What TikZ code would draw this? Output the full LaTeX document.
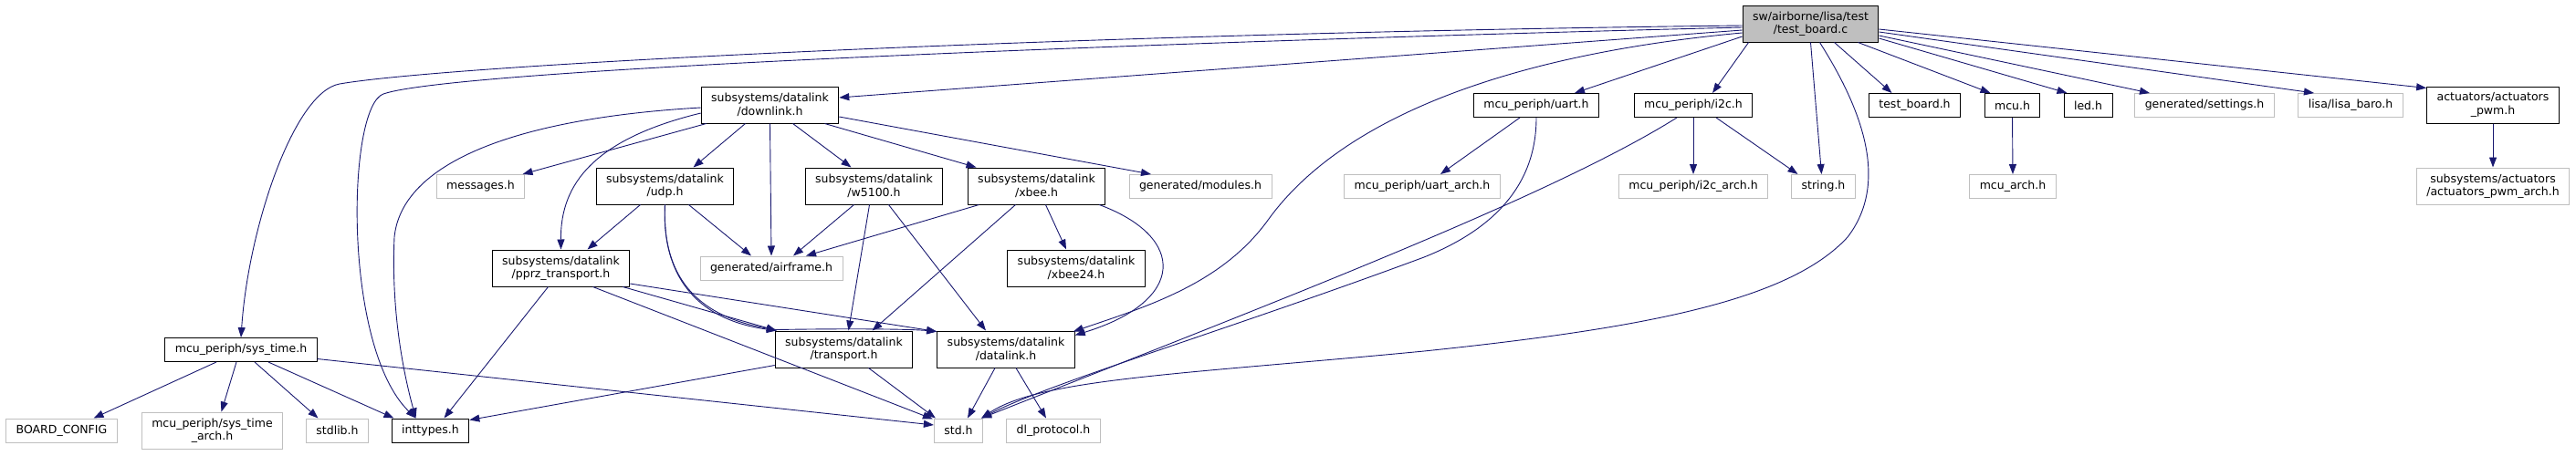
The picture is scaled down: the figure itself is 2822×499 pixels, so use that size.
\documentclass[tikz,border=0pt]{standalone}
\usepackage{fontspec}
\setmainfont{DejaVu Sans}
\usetikzlibrary{arrows.meta,calc}
\definecolor{edgeblue}{HTML}{191970}
\definecolor{undocgrey}{HTML}{BFBFBF}
\newcommand{\gfont}{\fontsize{12.5}{14.5}\selectfont}

\begin{document}
\begin{tikzpicture}[x=1pt,y=-1pt,>={Triangle[length=11pt,width=8pt]},
  doc/.style={draw=black,fill=white,line width=1pt,inner xsep=11pt,inner ysep=2pt,minimum height=26pt,align=center,font=\gfont},
  undoc/.style={doc,draw=undocgrey},
  twoline/.style={minimum height=40pt},
  inc/.style={->,draw=edgeblue,line width=0.9pt}]
  \useasboundingbox (0,0) rectangle (2822,499);
  % rank 0
  \node[doc,twoline,fill=undocgrey] (tbc) at (1983.5,26) {sw/airborne/lisa/test\\/test\_board.c};
  % rank 1
  \node[doc,twoline] (downlink) at (843.5,115) {subsystems/datalink\\/downlink.h};
  \node[doc] (uart) at (1683,115.5) {mcu\_periph/uart.h};
  \node[doc] (itwoc) at (1855,115.5) {mcu\_periph/i2c.h};
  \node[doc] (tbh) at (2097.5,115.5) {test\_board.h};
  \node[doc] (mcu) at (2204.5,115.5) {mcu.h};
  \node[doc] (led) at (2287.5,115.5) {led.h};
  \node[undoc] (settings) at (2415,115.5) {generated/settings.h};
  \node[undoc] (baro) at (2575,115.5) {lisa/lisa\_baro.h};
  \node[doc,twoline] (actpwm) at (2731,115) {actuators/actuators\\\_pwm.h};
  % rank 2
  \node[undoc] (messages) at (526.5,204.5) {messages.h};
  \node[doc,twoline] (udp) at (728.5,204) {subsystems/datalink\\/udp.h};
  \node[doc,twoline] (w5100) at (957.5,204) {subsystems/datalink\\/w5100.h};
  \node[doc,twoline] (xbee) at (1135.5,204) {subsystems/datalink\\/xbee.h};
  \node[undoc] (modules) at (1315,204.5) {generated/modules.h};
  \node[undoc] (uartarch) at (1558,204.5) {mcu\_periph/uart\_arch.h};
  \node[undoc] (itwocarch) at (1855,204.5) {mcu\_periph/i2c\_arch.h};
  \node[undoc] (stringh) at (1997.5,204.5) {string.h};
  \node[undoc] (mcuarch) at (2205,204.5) {mcu\_arch.h};
  \node[undoc,twoline] (actpwmarch) at (2731,204) {subsystems/actuators\\/actuators\_pwm\_arch.h};
  % rank 3
  \node[doc,twoline] (pprz) at (614.5,294) {subsystems/datalink\\/pprz\_transport.h};
  \node[undoc] (airframe) at (845,294) {generated/airframe.h};
  \node[doc,twoline] (xbeetf) at (1179,294) {subsystems/datalink\\/xbee24.h};
  % rank 4
  \node[doc] (systime) at (264,383.5) {mcu\_periph/sys\_time.h};
  \node[doc,twoline] (transport) at (924.5,383) {subsystems/datalink\\/transport.h};
  \node[doc,twoline] (datalink) at (1102,383) {subsystems/datalink\\/datalink.h};
  % rank 5
  \node[undoc] (boardcfg) at (67.5,472) {BOARD\_CONFIG};
  \node[undoc,twoline] (systimearch) at (232.5,472) {mcu\_periph/sys\_time\\\_arch.h};
  \node[undoc] (stdlib) at (369.5,472) {stdlib.h};
  \node[doc] (inttypes) at (471.5,472) {inttypes.h};
  \node[undoc] (stdh) at (1050,472) {std.h};
  \node[undoc] (dlproto) at (1154,472) {dl\_protocol.h};

  % includes of test_board.c
  \draw[inc] ($(tbc.west)+(0,2)$) .. controls (1200,36) and (500,70) .. (372,92) .. controls (322,101) and (272,250) .. (systime.north);
  \draw[inc] ($(tbc.west)+(0,4)$) .. controls (1300,45) and (500,75) .. (420,103) .. controls (380,117) and (375,380) .. ($(inttypes.north)+(-16,0)$);
  \draw[inc] ($(tbc.west)+(0,7)$) -- ($(downlink.east)+(0,-8)$);
  \draw[inc] ($(tbc.west)+(0,10)$) .. controls (1650,60) and (1470,130) .. (1390,240) .. controls (1340,310) and (1260,335) .. ($(datalink.north east)+(-2,1)$);
  \draw[inc] ($(tbc.west)+(0,14)$) -- ($(uart.north)+(42,0)$);
  \draw[inc] ($(tbc.south west)+(7,0)$) -- ($(itwoc.north)+(21,0)$);
  \draw[inc] (tbc.south) -- ($(stringh.north)+(-2,0)$);
  \draw[inc] ($(tbc.south)+(10,0)$) .. controls (2040,120) and (2070,200) .. (2024,260) .. controls (1960,330) and (1800,360) .. (1560,385) .. controls (1300,410) and (1140,415) .. ($(stdh.north east)+(-2,0)$);
  \draw[inc] ($(tbc.south)+(26,0)$) -- ($(tbh.north)+(-25,0)$);
  \draw[inc] ($(tbc.south)+(52,0)$) -- ($(mcu.north)+(-24,0)$);
  \draw[inc] ($(tbc.east)+(0,16)$) -- ($(led.north)+(-23,0)$);
  \draw[inc] ($(tbc.east)+(0,13)$) -- ($(settings.north)+(-60,0)$);
  \draw[inc] ($(tbc.east)+(0,9)$) -- ($(baro.north)+(-40,0)$);
  \draw[inc] ($(tbc.east)+(0,6)$) -- ($(actpwm.north west)+(0,2)$);

  % downlink.h
  \draw[inc] ($(downlink.south west)+(6,0)$) -- ($(messages.north)+(46,0)$);
  \draw[inc] ($(downlink.south)+(-27,0)$) -- ($(udp.north)+(31,0)$);
  \draw[inc] (downlink.south) -- (airframe.north);
  \draw[inc] ($(downlink.south)+(25,0)$) -- ($(w5100.north)+(-25,0)$);
  \draw[inc] ($(downlink.south)+(60,0)$) -- ($(xbee.north)+(-66,0)$);
  \draw[inc] ($(downlink.east)+(0,13)$) -- ($(modules.north)+(-54,0)$);
  \draw[inc] ($(downlink.west)+(0,9)$) .. controls (640,155) and (614,210) .. (pprz.north);
  \draw[inc] ($(downlink.west)+(0,3)$) .. controls (560,130) and (440,180) .. (432,260) .. controls (428,350) and (445,420) .. ($(inttypes.north)+(-16,0)$);

  % udp.h
  \draw[inc] ($(udp.south)+(-27,0)$) -- ($(pprz.north)+(29,0)$);
  \draw[inc] ($(udp.south)+(26,0)$) -- ($(airframe.north)+(-22,0)$);
  \draw[inc] (udp.south) .. controls (725,300) and (760,350) .. ($(transport.north west)+(2,0)$);
  \draw[inc] (udp.south) .. controls (725,300) and (760,350) .. ($(transport.north west)+(2,-1)$) .. controls (940,360) and (1000,361) .. ($(datalink.north west)+(0,1)$);

  % w5100.h and xbee.h
  \draw[inc] ($(w5100.south)+(-22,0)$) -- ($(airframe.north)+(24,0)$);
  \draw[inc] ($(w5100.south)+(-5,0)$) -- ($(transport.north)+(5,0)$);
  \draw[inc] ($(w5100.south)+(16,0)$) -- ($(datalink.north)+(-22,0)$);
  \draw[inc] ($(xbee.south)+(-63,0)$) -- ($(airframe.north)+(38,0)$);
  \draw[inc] ($(xbee.south)+(-23,0)$) -- ($(transport.north)+(31,0)$);
  \draw[inc] ($(xbee.south)+(10,0)$) -- ($(xbeetf.north)+(-11,0)$);
  \draw[inc] ($(xbee.south east)+(-7,0)$) .. controls (1300,260) and (1300,330) .. ($(datalink.north east)+(0,5)$);

  % pprz_transport.h
  \draw[inc] ($(pprz.south)+(-14,0)$) -- ($(inttypes.north)+(15,0)$);
  \draw[inc] ($(pprz.south east)+(-8,0)$) -- ($(transport.north west)+(2,0)$);
  \draw[inc] ($(pprz.east)+(0,17)$) -- ($(datalink.north west)+(0,1)$);
  \draw[inc] ($(pprz.south)+(35,0)$) -- ($(stdh.north west)+(-1,1)$);

  % transport.h and datalink.h
  \draw[inc] ($(transport.south west)+(0,-3)$) -- ($(inttypes.north east)+(0,2)$);
  \draw[inc] ($(transport.south)+(27,0)$) -- ($(stdh.north west)+(2,0)$);
  \draw[inc] ($(datalink.south)+(-12,0)$) -- ($(stdh.north)+(10,0)$);
  \draw[inc] ($(datalink.south)+(11,0)$) -- ($(dlproto.north)+(-8,0)$);

  % sys_time.h
  \draw[inc] ($(systime.south)+(-27,0)$) -- ($(boardcfg.north)+(35,0)$);
  \draw[inc] ($(systime.south)+(-5,0)$) -- ($(systimearch.north)+(10,0)$);
  \draw[inc] ($(systime.south)+(15,0)$) -- ($(stdlib.north)+(-21,0)$);
  \draw[inc] ($(systime.south)+(30,0)$) -- ($(inttypes.north)+(-40,0)$);
  \draw[inc] ($(systime.east)+(0,10)$) -- ($(stdh.west)+(0,-6)$);

  % peripherals
  \draw[inc] ($(uart.south)+(-18,0)$) -- ($(uartarch.north)+(20,0)$);
  \draw[inc] (uart.south) .. controls (1683,200) and (1640,250) .. (1560,282) .. controls (1350,360) and (1150,420) .. ($(stdh.north east)+(-2,0)$);
  \draw[inc] (itwoc.south) -- (itwocarch.north);
  \draw[inc] ($(itwoc.south)+(-18,0)$) .. controls (1700,215) and (1400,330) .. ($(stdh.north east)+(-2,0)$);
  \draw[inc] ($(itwoc.south)+(25,0)$) -- ($(stringh.north)+(-28,0)$);
  \draw[inc] (mcu.south) -- (mcuarch.north);
  \draw[inc] (actpwm.south) -- (actpwmarch.north);
\end{tikzpicture}
\end{document}
